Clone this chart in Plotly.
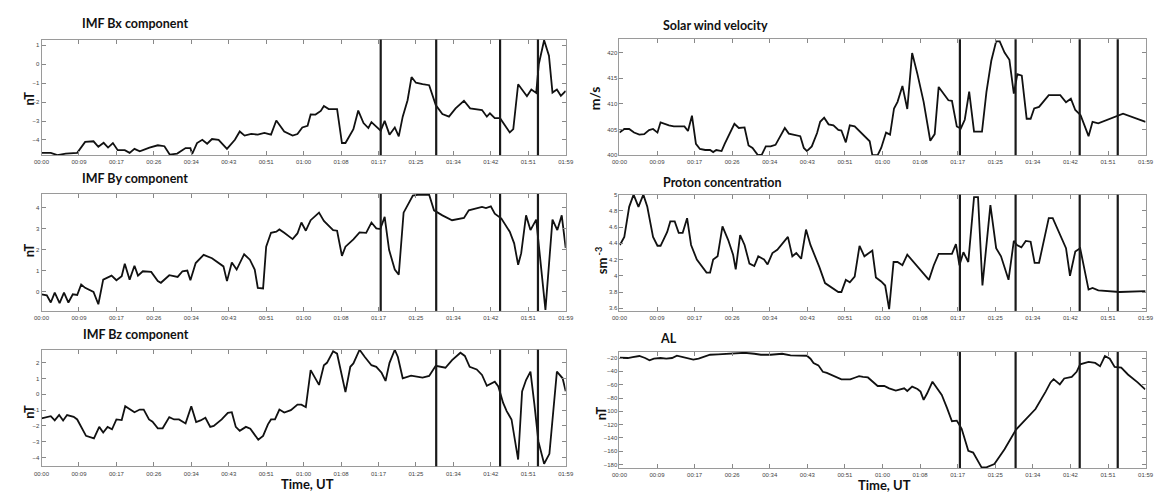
import plotly.graph_objects as go

# ---------------- data ----------------
tick_minutes = [0, 8.5, 17, 25.5, 34, 42.5, 51, 59.5, 68, 76.5, 85, 93.5, 102, 110.5, 119]
tick_labels = ["00:00", "00:09", "00:17", "00:26", "00:34", "00:43", "00:51", "01:00",
               "01:08", "01:17", "01:25", "01:34", "01:42", "01:51", "01:59"]
event_minutes = [77.0, 89.6, 104.1, 112.7]
bz_event_minutes = [89.6, 104.1, 112.7]

bx_t = [0, 2.1, 3.6, 5.5, 8.1, 9.9, 11.8, 12.9, 14.1, 15.1, 16.2, 17.3, 18.9, 20.0, 21.1, 22.3,
        24.5, 26.4, 27.9, 29.1, 30.8, 32.7, 33.8, 34.2, 35.3, 36.5, 37.6, 38.7, 40.2, 42.1, 43.9,
        45.0, 46.1, 47.6, 49.1, 50.6, 52.1, 53.3, 55.1, 57.0, 58.1, 59.2, 60.4, 61.1, 62.2, 63.4,
        64.1, 65.2, 67.1, 68.2, 69.0, 70.1, 70.8, 71.9, 73.1, 74.2, 74.9, 76.0, 77.0, 77.9, 79.0,
        80.2, 81.1, 82.0, 83.1, 84.0, 85.0, 86.5, 88.0, 89.5, 91.0, 92.5, 94.0, 95.9, 97.3, 100.0,
        101.1, 101.8, 102.9, 104.1, 105.2, 106.3, 107.1, 108.2, 110.2, 111.2, 112.3, 112.9, 114.1,
        115.2, 116.0, 117.0, 117.9, 119.0]
bx_v = [-4.68, -4.68, -4.8, -4.72, -4.68, -4.1, -4.07, -4.36, -4.15, -4.4, -4.16, -4.54, -4.54,
        -4.68, -4.47, -4.6, -4.4, -4.28, -4.33, -4.77, -4.72, -4.43, -4.43, -4.74, -4.16, -3.99,
        -4.2, -3.95, -3.99, -4.47, -3.99, -3.55, -3.77, -3.68, -3.72, -3.63, -3.72, -2.97, -3.55,
        -3.77, -3.69, -3.34, -3.25, -2.65, -2.66, -2.47, -2.21, -2.37, -2.37, -4.16, -4.16, -3.72,
        -3.43, -2.45, -3.11, -3.37, -3.06, -3.3, -3.51, -2.99, -3.72, -3.34, -3.81, -2.77, -1.9,
        -0.68, -0.98, -1.05, -1.11, -2.16, -2.63, -2.77, -2.33, -1.93, -2.33, -2.42, -2.77, -2.59,
        -2.85, -2.85, -3.23, -3.6, -3.43, -1.06, -1.69, -1.34, -1.52, 0.01, 1.26, 0.45, -1.5,
        -1.34, -1.67, -1.41]

by_t = [0, 1.2, 2.1, 3.0, 4.1, 5.1, 6.1, 7.1, 8.1, 9.0, 9.9, 11.8, 12.9, 14.0, 15.9, 17.0, 18.2,
        18.9, 20.0, 21.1, 21.9, 23.0, 24.9, 26.4, 27.1, 29.0, 30.9, 32.0, 33.1, 33.8, 35.0, 36.8,
        38.7, 41.3, 42.1, 43.2, 44.3, 46.0, 47.3, 48.4, 49.1, 50.3, 51.0, 52.1, 53.3, 54.0, 55.1,
        57.0, 58.1, 59.0, 60.0, 61.1, 63.0, 64.1, 66.2, 67.1, 68.2, 69.0, 70.8, 72.2, 73.7, 74.9,
        76.0, 76.9, 77.9, 78.9, 80.2, 81.1, 82.2, 84.3, 85.4, 88.0, 89.1, 91.0, 93.2, 95.9, 97.0,
        98.5, 100.0, 100.9, 102.0, 102.9, 104.4, 106.3, 107.3, 108.2, 108.9, 110.0, 111.0, 112.3,
        112.7, 114.4, 116.0, 117.1, 118.1, 119.0]
by_v = [-0.14, -0.19, -0.53, -0.06, -0.56, -0.06, -0.53, -0.14, -0.17, 0.33, 0.17, -0.02, -0.61,
        0.56, 0.75, 0.53, 0.72, 1.32, 0.56, 1.22, 0.75, 0.96, 0.93, 0.49, 0.41, 0.77, 0.69, 0.96,
        0.99, 0.53, 1.35, 1.74, 1.58, 1.19, 0.49, 1.38, 1.04, 1.77, 1.51, 1.04, 0.17, 0.14, 2.13,
        2.79, 2.84, 2.95, 2.79, 2.49, 2.76, 3.28, 2.89, 3.39, 3.75, 3.36, 2.92, 2.89, 1.69, 2.13,
        2.48, 2.81, 2.79, 3.28, 3.0, 2.97, 3.55, 1.98, 1.04, 0.8, 3.75, 4.56, 4.6, 4.6, 3.86, 3.62,
        3.39, 3.5, 3.86, 3.94, 4.02, 3.97, 4.05, 3.7, 3.47, 2.84, 2.29, 1.27, 1.82, 3.62, 2.92,
        3.42, 2.6, -0.88, 3.42, 2.92, 3.62, 2.06]

bz_t = [0, 2.1, 3.0, 4.0, 4.9, 5.8, 7.3, 8.1, 10.1, 11.9, 13.1, 14.0, 15.0, 16.0, 17.0, 18.2,
        19.0, 21.1, 22.3, 23.2, 24.4, 25.2, 26.4, 27.5, 29.0, 30.1, 31.2, 32.7, 34.0, 35.1, 36.1,
        37.2, 38.3, 39.1, 40.9, 42.3, 43.2, 44.1, 45.0, 46.4, 47.4, 49.2, 50.3, 51.4, 52.1, 53.0,
        54.0, 55.1, 56.6, 58.1, 59.0, 60.0, 61.1, 63.0, 64.1, 64.8, 66.2, 67.1, 69.0, 70.1, 70.8,
        72.2, 73.4, 74.9, 76.0, 77.2, 78.1, 79.0, 80.2, 80.9, 82.0, 83.9, 86.5, 88.0, 89.5, 91.7,
        93.2, 95.1, 96.1, 97.2, 98.8, 100.0, 101.1, 102.9, 103.7, 104.8, 105.6, 106.7, 108.2,
        109.1, 110.0, 111.0, 111.9, 112.8, 114.1, 115.3, 117.0, 118.3, 119.0]
bz_v = [-1.52, -1.38, -1.65, -1.31, -1.65, -1.31, -1.42, -1.59, -2.63, -2.79, -2.06, -2.42, -2.06,
        -2.21, -1.59, -1.63, -0.75, -1.13, -0.96, -0.96, -1.59, -1.73, -2.15, -2.15, -1.44, -1.59,
        -1.59, -1.84, -0.75, -1.75, -1.65, -1.48, -2.06, -2.0, -1.59, -1.17, -1.13, -2.06, -2.31,
        -2.06, -2.17, -2.88, -2.63, -1.9, -1.59, -1.59, -0.96, -1.15, -1.0, -0.65, -0.65, -0.81,
        1.54, 0.6, 1.85, 2.0, 2.73, 2.58, 0.14, 1.75, 1.96, 2.83, 2.37, 1.85, 1.75, 1.37, 0.85,
        2.0, 2.83, 2.37, 1.02, 1.19, 1.06, 1.17, 1.81, 1.69, 2.17, 2.64, 2.44, 1.75, 1.58, 1.23,
        0.54, 0.81, 0.5, -0.54, -1.06, -1.59, -4.13, 0.19, 0.91, 1.44, -0.65, -2.98, -4.4, -3.77,
        1.44, 1.02, 0.19]

vel_t = [0, 1.1, 2.2, 3.3, 4.5, 5.6, 6.7, 7.6, 8.6, 9.3, 11.2, 12.3, 14.7, 15.5, 16.4, 17.3, 18.2,
         19.4, 20.5, 21.2, 21.9, 23.1, 23.8, 24.9, 26.0, 27.0, 28.3, 29.2, 30.1, 31.3, 32.2, 33.1,
         34.2, 35.3, 36.5, 37.4, 38.3, 39.8, 40.9, 41.7, 42.4, 43.5, 44.7, 45.4, 46.3, 47.3, 48.4,
         49.5, 50.2, 51.2, 52.1, 53.2, 54.7, 55.8, 56.6, 57.2, 58.4, 59.2, 60.3, 61.2, 62.1, 62.9,
         64.0, 65.1, 66.2, 67.4, 68.8, 70.3, 71.3, 72.2, 73.3, 74.4, 75.2, 76.3, 77.2, 78.1, 79.1,
         80.2, 82.0, 83.0, 84.1, 85.2, 86.0, 87.1, 88.2, 89.2, 90.0, 91.0, 92.1, 93.0, 93.8, 94.9,
         97.1, 99.7, 101.0, 102.1, 103.1, 104.3, 106.1, 107.0, 108.3, 113.9, 119.0]
vel_v = [404.4, 405.1, 405.1, 404.4, 404.0, 404.1, 404.9, 405.1, 404.4, 406.4, 405.8, 405.6, 405.6,
         404.7, 407.7, 402.2, 401.2, 401.0, 401.0, 400.6, 401.0, 400.8, 402.2, 404.0, 406.1, 405.3,
         405.4, 401.9, 401.4, 400.0, 400.1, 401.7, 401.7, 402.0, 404.0, 405.3, 404.2, 403.9, 403.7,
         401.4, 400.8, 401.7, 404.3, 406.5, 407.3, 406.0, 405.8, 404.9, 404.8, 402.5, 405.8, 405.6,
         404.3, 403.3, 402.7, 400.0, 400.0, 401.4, 404.4, 404.0, 409.1, 410.4, 413.5, 409.0, 419.9,
         415.8, 410.4, 402.8, 404.1, 413.3, 412.0, 410.7, 410.6, 405.6, 405.2, 406.9, 412.4, 404.6,
         404.6, 412.3, 418.4, 422.2, 422.2, 420.0, 418.6, 412.0, 415.8, 415.5, 407.1, 407.1, 409.1,
         409.4, 411.7, 411.7, 410.3, 411.0, 408.8, 407.8, 403.7, 406.5, 406.2, 408.1, 406.5]

pc_t = [0.1, 1.1, 2.2, 3.2, 4.3, 5.4, 6.3, 7.6, 8.6, 9.3, 10.8, 11.5, 12.5, 13.4, 14.3, 15.3,
        16.2, 17.5, 19.7, 20.5, 21.2, 22.2, 23.3, 24.6, 25.7, 26.3, 27.3, 28.3, 29.4, 30.5, 31.4,
        32.7, 33.5, 34.6, 35.7, 37.2, 38.1, 39.1, 40.0, 41.1, 42.2, 43.2, 45.2, 46.5, 47.6, 49.5,
        50.2, 51.2, 52.1, 53.2, 54.3, 55.4, 57.2, 58.0, 59.2, 60.1, 61.0, 62.0, 62.9, 64.0, 65.1,
        70.0, 71.1, 72.2, 75.2, 76.1, 76.9, 77.8, 78.9, 80.2, 81.1, 82.1, 83.9, 85.2, 86.3, 88.0,
        89.2, 89.9, 90.9, 91.9, 93.0, 93.9, 94.9, 96.0, 97.1, 98.0, 99.7, 101.0, 101.9, 103.1,
        104.2, 106.1, 107.0, 108.3, 113.1, 119.0]
pc_v = [4.38, 4.48, 4.85, 5.0, 4.85, 5.0, 4.85, 4.48, 4.37, 4.37, 4.54, 4.67, 4.67, 4.53, 4.53,
        4.71, 4.38, 4.2, 4.04, 4.04, 4.2, 4.24, 4.61, 4.44, 4.26, 4.08, 4.5, 4.38, 4.15, 4.12,
        4.24, 4.2, 4.14, 4.28, 4.32, 4.42, 4.48, 4.24, 4.28, 4.21, 4.57, 4.38, 4.11, 3.91, 3.87,
        3.8, 3.8, 3.95, 3.92, 3.99, 4.37, 4.24, 4.31, 3.98, 3.93, 3.88, 3.59, 4.17, 4.17, 4.13,
        4.26, 3.95, 4.13, 4.27, 4.27, 4.39, 4.13, 4.29, 4.17, 4.97, 4.97, 3.88, 4.87, 4.34, 4.24,
        3.95, 4.43, 4.38, 4.35, 4.43, 4.42, 4.16, 4.16, 4.44, 4.71, 4.71, 4.5, 4.34, 4.0, 4.3,
        4.34, 3.83, 3.85, 3.82, 3.8, 3.81]

al_t = [0.1, 1.9, 3.0, 4.5, 5.8, 6.8, 7.8, 9.3, 10.6, 11.9, 13.0, 14.1, 15.6, 16.7, 17.9, 19.2,
        20.5, 22.3, 24.6, 26.1, 28.3, 30.5, 32.0, 34.2, 35.7, 36.8, 38.7, 40.9, 42.4, 43.2, 43.9,
        45.0, 46.0, 46.9, 48.0, 49.1, 50.2, 51.3, 52.2, 53.2, 54.2, 55.1, 56.2, 57.3, 58.4, 59.9,
        61.0, 62.5, 63.6, 64.4, 65.1, 66.2, 67.4, 68.1, 68.8, 69.6, 70.8, 71.8, 72.9, 74.1, 75.2,
        76.3, 77.4, 78.9, 80.0, 81.9, 83.0, 84.8, 87.1, 89.7, 91.9, 94.1, 96.4, 97.5, 98.2, 99.6,
        100.6, 102.3, 103.4, 104.2, 106.1, 107.6, 108.7, 109.8, 110.9, 112.0, 113.5, 115.0, 117.2,
        118.9]
al_v = [-19.6, -20, -18.5, -17.0, -20, -23.5, -21.0, -20, -21, -20, -16.6, -18.5, -21.5, -22.5,
        -21, -17.6, -15.1, -14.6, -13.6, -12.1, -12.1, -13.6, -15.1, -15.1, -14.6, -13.6, -16.1,
        -16.1, -16.6, -21, -27.4, -31, -40.7, -42.2, -45.8, -49.6, -52.1, -52.1, -52.1, -49.6,
        -47.2, -48.2, -49.2, -55.6, -62.0, -62, -65.5, -68.9, -67, -65.5, -69.5, -63, -66.5, -70.4,
        -82.8, -72.9, -55.6, -65.5, -75.4, -95.1, -114.8, -113.9, -126.2, -159.3, -161.8, -184,
        -184, -179.1, -156.9, -127.3, -112.4, -96.6, -70.4, -56.6, -51.7, -59.6, -50.7, -48.2,
        -40.7, -29.5, -25.9, -27.4, -32.4, -17.0, -21, -33.3, -34.3, -44.7, -56.6, -67]

bx_ticks = [-4, -3, -2, -1, 0, 1]
by_ticks = [0, 1, 2, 3, 4]
bz_ticks = [-4, -3, -2, -1, 0, 1, 2]
vel_ticks = [400, 405, 410, 415, 420]
pc_ticks = [3.6, 3.8, 4.0, 4.2, 4.4, 4.6, 4.8, 5.0]
pc_tick_labels = ["3.6", "3.8", "4", "4.2", "4.4", "4.6", "4.8", "5"]
al_ticks = [-180, -160, -140, -120, -100, -80, -60, -40, -20]

titles = ["IMF Bx component", "IMF By component", "IMF Bz component",
          "Solar wind velocity", "Proton concentration", "AL"]
ylabels = ["nT", "nT", "nT", "m/s", "sm<sup> -3</sup>", "nT"]
xlabel = "Time, UT"

# ---------------- layout ----------------
W, H = 1160, 495
LEFT = [34 / W, 565.5 / W]
RIGHT = [620 / W, 1153.5 / W]


def ydom(top, bot):
    return [1 - bot / H, 1 - top / H]


panels = [
    dict(t=bx_t, v=bx_v, xd=LEFT, yd=ydom(37, 154), yr=[-4.8, 1.3], tv=bx_ticks, tt=None, ev=event_minutes),
    dict(t=by_t, v=by_v, xd=LEFT, yd=ydom(193.3, 311.7), yr=[-0.93, 4.64], tv=by_ticks, tt=None, ev=event_minutes),
    dict(t=bz_t, v=bz_v, xd=LEFT, yd=ydom(351, 469), yr=[-4.56, 2.83], tv=bz_ticks, tt=None, ev=bz_event_minutes),
    dict(t=vel_t, v=vel_v, xd=RIGHT, yd=ydom(36.7, 154), yr=[400, 422.6], tv=vel_ticks, tt=None, ev=event_minutes),
    dict(t=pc_t, v=pc_v, xd=RIGHT, yd=ydom(194, 311.7), yr=[3.567, 5.0], tv=pc_ticks, tt=pc_tick_labels, ev=event_minutes),
    dict(t=al_t, v=al_v, xd=RIGHT, yd=ydom(353.3, 470.7), yr=[-185, -11], tv=al_ticks, tt=None, ev=event_minutes),
]

tickfont = dict(family="Liberation Sans", size=6, color="#444")
fig = go.Figure()
layout = {}
shapes = []
for i, p in enumerate(panels, start=1):
    sfx = "" if i == 1 else str(i)
    fig.add_trace(go.Scatter(x=p["t"], y=p["v"], mode="lines",
                             line=dict(color="#111", width=1.8),
                             xaxis="x" + sfx, yaxis="y" + sfx, showlegend=False,
                             hoverinfo="skip"))
    common = dict(showline=True, linecolor="#9a9a9a", linewidth=1, mirror="ticks",
                  ticks="inside", ticklen=4, tickcolor="#888", tickwidth=1,
                  showgrid=False, zeroline=False, tickfont=tickfont)
    layout["xaxis" + sfx] = dict(domain=p["xd"], range=[0, 119], anchor="y" + sfx,
                                 tickmode="array", tickvals=tick_minutes, ticktext=tick_labels,
                                 ticklabelstandoff=1, **common)
    yax = dict(domain=p["yd"], range=p["yr"], anchor="x" + sfx,
               tickmode="array", tickvals=p["tv"], **common)
    if p["tt"] is not None:
        yax["ticktext"] = p["tt"]
    layout["yaxis" + sfx] = yax
    for e in p["ev"]:
        shapes.append(dict(type="line", xref="x" + sfx, yref="y" + sfx + " domain",
                           x0=e, x1=e, y0=0, y1=1, line=dict(color="#1a1a1a", width=2.2)))

bold = dict(family="Lato", size=12.5, color="#111")
title_pos = [(128.5, 21), (129, 178), (129.5, 336), (717.7, 23), (724, 181.7), (669.3, 340)]
ylabel_pos = [(21, 97), (21.7, 250), (21.7, 413.3), (595, 96.7), (601.7, 260), (601.7, 415)]
annotations = []
for txt, (px, py) in zip(titles, title_pos):
    annotations.append(dict(text="<b>" + txt + "</b>", x=px / W, y=1 - py / H, xref="paper",
                            yref="paper", showarrow=False, font=bold, xanchor="center",
                            yanchor="middle"))
for k, (txt, (px, py)) in enumerate(zip(ylabels, ylabel_pos)):
    size = 14 if k == 3 else 13
    annotations.append(dict(text="<b>" + txt + "</b>", x=px / W, y=1 - py / H, xref="paper",
                            yref="paper", showarrow=False, textangle=-90,
                            font=dict(family="Lato", size=size, color="#111"),
                            xanchor="center", yanchor="middle"))
for px, py in [(304, 487), (889, 488)]:
    annotations.append(dict(text="<b>" + xlabel + "</b>", x=px / W, y=1 - py / H, xref="paper",
                            yref="paper", showarrow=False,
                            font=dict(family="Lato", size=13, color="#111"),
                            xanchor="center", yanchor="middle"))

fig.update_layout(width=W, height=H, margin=dict(l=0, r=0, t=0, b=0),
                  paper_bgcolor="white", plot_bgcolor="white",
                  shapes=shapes, annotations=annotations, **layout)
fig.write_html("out.html", config={"displayModeBar": False},
               post_script="document.body.style.margin='0';document.body.style.overflow='hidden';")
